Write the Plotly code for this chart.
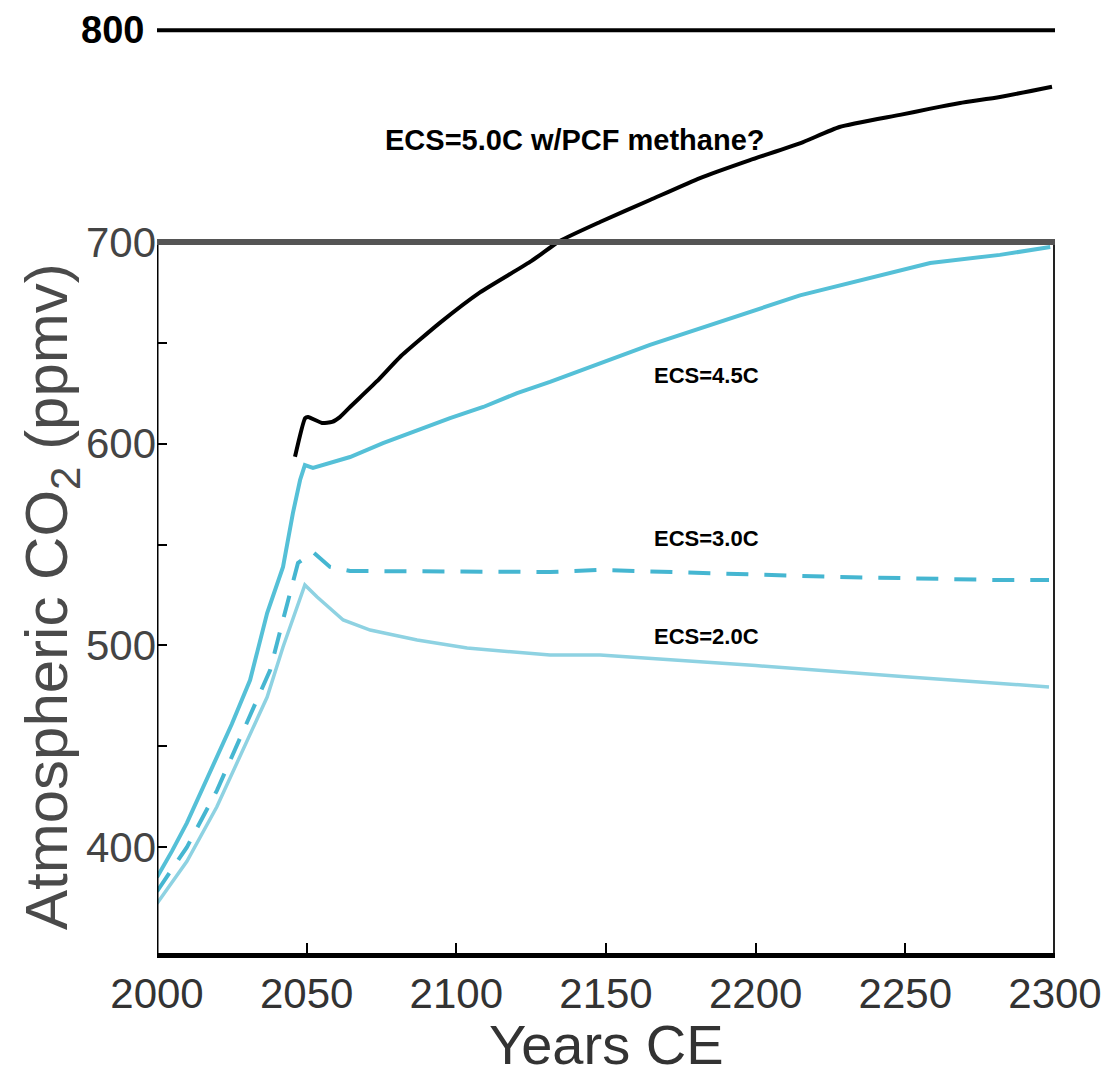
import plotly.graph_objects as go

# ---- data ----
years_black = [2046.1, 2049.5, 2050.5, 2055.1, 2058.5, 2061.1, 2064.5, 2073.5, 2081.2, 2094.6,
               2107.9, 2124.6, 2134.6, 2148.0, 2164.7, 2181.4, 2198.1, 2215.0, 2228.0, 2248.2,
               2258.0, 2268.3, 2281.6, 2299.0]
co2_black = [593.5, 612.7, 613.2, 610.3, 610.8, 613.2, 618.2, 631.0, 643.0, 660.0,
             675.0, 690.1, 700.5, 709.9, 720.8, 731.7, 740.6, 749.0, 757.0, 763.0,
             766.0, 768.9, 771.9, 777.0]

years_45 = [2000, 2005, 2010, 2015, 2020, 2025, 2031.1, 2036.8, 2042.1, 2045.4, 2047.8, 2049.4,
            2052.1, 2057.8, 2064.5, 2075.5, 2086.9, 2097.9, 2109.0, 2120.3, 2131.3, 2148.0,
            2164.7, 2214.8, 2258.3, 2281.6, 2298.4]
co2_45 = [385, 398, 412, 428, 444, 461, 482.8, 516.0, 538.9, 565.6, 582.0, 589.4,
          588.0, 590.4, 593.4, 600.3, 606.8, 612.7, 618.2, 625.1, 630.6, 640.0,
          649.0, 673.5, 689.6, 693.6, 697.5]

years_30 = [2000, 2010, 2020, 2030, 2037.8, 2042.1, 2047.1, 2052.1, 2057.8, 2064.5, 2131.3,
            2148.0, 2225.9, 2281.6, 2298.0]
co2_30 = [378, 400, 428, 461, 487.8, 512.6, 540.9, 546.3, 538.9, 536.9, 536.4,
          537.4, 534.0, 532.4, 532.4]

years_20 = [2000, 2010, 2020, 2030, 2036.8, 2042.1, 2046.8, 2049.4, 2053.5, 2062.2, 2071.2,
            2086.9, 2103.6, 2131.3, 2148.0, 2200.0, 2250.0, 2298.0]
co2_20 = [372, 393, 420, 452, 474.4, 499.2, 519.0, 530.0, 524.0, 512.6, 507.6,
          502.7, 498.7, 495.2, 495.2, 490.0, 484.5, 479.4]

ref_years = [2000, 2300]
ref_co2 = [805, 805]

x_ticks = [2000, 2050, 2100, 2150, 2200, 2250, 2300]
y_ticks = [400, 500, 600, 700]
y_minor_ticks = [450, 550, 650]

labels = ["ECS=5.0C w/PCF methane?", "ECS=4.5C", "ECS=3.0C", "ECS=2.0C"]
label_x = [2075.5, 2165.5, 2165.5, 2165.5]
label_y = [750.6, 634.0, 553.2, 504.2]

SANS = "Liberation Sans, Arial, Helvetica, sans-serif"

fig = go.Figure()

fig.add_trace(go.Scatter(x=years_20, y=co2_20, mode="lines",
                         line=dict(color="#8ed2e2", width=3.5), showlegend=False))
fig.add_trace(go.Scatter(x=years_30, y=co2_30, mode="lines",
                         line=dict(color="#45b6d1", width=4, dash="22px,16px"), showlegend=False))
fig.add_trace(go.Scatter(x=years_45, y=co2_45, mode="lines",
                         line=dict(color="#55c0d7", width=4), showlegend=False))
fig.add_trace(go.Scatter(x=years_black, y=co2_black, mode="lines",
                         line=dict(color="black", width=4, shape="spline", smoothing=0.5),
                         showlegend=False))
fig.add_trace(go.Scatter(x=ref_years, y=ref_co2, mode="lines",
                         line=dict(color="black", width=4), showlegend=False))

# frame of the original box
fig.add_shape(type="line", x0=2000, x1=2000, y0=347.5, y1=700, xref="x", yref="y",
              line=dict(color="black", width=3))
fig.add_shape(type="line", x0=2300, x1=2300, y0=347.5, y1=700, xref="x", yref="y",
              line=dict(color="#222222", width=4))
fig.add_shape(type="line", x0=2000, x1=2300, y0=700, y1=700, xref="x", yref="y",
              line=dict(color="#555555", width=6))

for t, lx, ly in zip(labels, label_x, label_y):
    big = t.startswith("ECS=5.0C")
    fig.add_annotation(x=lx, y=ly, xref="x", yref="y", text="<b>%s</b>" % t,
                       showarrow=False, xanchor="left", yanchor="middle",
                       font=dict(family=SANS, size=29 if big else 22, color="black"))

fig.add_annotation(x=-0.012, y=805, xref="paper", yref="y", text="<b>800</b>",
                   showarrow=False, xanchor="right", yanchor="middle",
                   font=dict(family=SANS, size=38, color="black"))

fig.add_annotation(x=-0.118, y=524, xref="paper", yref="y",
                   text="Atmospheric CO<sub>2</sub> (ppmv)", textangle=-90,
                   showarrow=False, xanchor="center", yanchor="middle",
                   font=dict(family=SANS, size=60, color="#4a4a4a"))

fig.add_annotation(x=0.5, y=-0.097, xref="paper", yref="paper", text="Years CE",
                   showarrow=False, xanchor="center", yanchor="middle",
                   font=dict(family=SANS, size=56, color="#333333"))

fig.update_xaxes(range=[2000, 2300], tickvals=x_ticks, ticks="inside", ticklen=10,
                 tickwidth=2, tickcolor="black", showline=True, linewidth=5,
                 linecolor="black", showgrid=False, zeroline=False,
                 ticklabeloverflow="allow",
                 tickfont=dict(family=SANS, size=42, color="#333333"))
fig.update_yaxes(range=[347.5, 816], tickvals=y_ticks,
                 ticks="inside", ticklen=10, tickwidth=2, tickcolor="black",
                 minor=dict(tickmode="array", tickvals=y_minor_ticks, ticks="inside",
                            ticklen=10, tickwidth=2, tickcolor="black", showgrid=False),
                 showline=False, showgrid=False, zeroline=False,
                 tickfont=dict(family=SANS, size=42, color="#444444"))

fig.update_layout(width=1101, height=1071, margin=dict(l=149, r=54, t=0, b=126),
                  plot_bgcolor="white", paper_bgcolor="white")

fig.write_html("out.html")
